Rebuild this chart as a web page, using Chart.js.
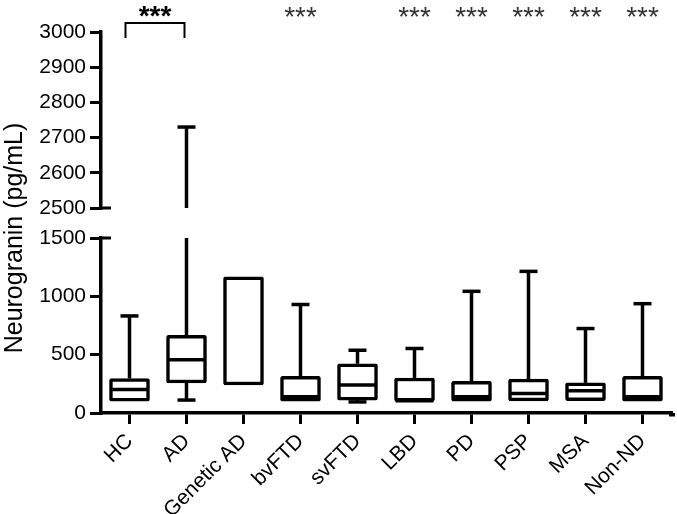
<!DOCTYPE html>
<html><head><meta charset="utf-8">
<script src="https://cdn.jsdelivr.net/npm/chart.js@4/dist/chart.umd.min.js"></script>
<style>html,body{margin:0;padding:0;background:#fff}#wrap{width:677px;height:514px}</style>
</head><body><div id="wrap"><canvas id="c" width="677" height="514"></canvas></div>
<script>
// ---- data ----
const categories = ['HC','AD','Genetic AD','bvFTD','svFTD','LBD','PD','PSP','MSA','Non-ND'];
const minValues    = [null, 111, null, null,  95, null, null, null, null, null];
const q1Values     = [102, 257,  240, 102, 110, 102, 102, 104, 106, 102];
const medianValues = [202, 456, null, 140, 239, 104, 140, 168, 191, 140];
const q3Values     = [295, 665, 1168, 314, 422, 300, 272, 290, 258, 314];
const maxValues    = [832, 2730, null, 930, 538, 553, 1043, 1214, 724, 937];
const upperAxisRange = [2500, 3000];
const lowerAxisRange = [0, 1500];
const upperTickStep = 100;
const lowerTickStep = 500;
const starGroups = ['bvFTD','LBD','PD','PSP','MSA','Non-ND'];
const bracketGroups = ['HC','AD'];
const yTitle = 'Neurogranin (pg/mL)';

const FONT = "'Liberation Sans', Arial, Helvetica, sans-serif";

const extras = {
  id: 'extras',
  beforeDatasetsDraw(chart) {
    const ctx = chart.ctx;
    const meta = chart.getDatasetMeta(0);
    const y = chart.scales.y, yTop = chart.scales.yTop;
    ctx.save();
    ctx.strokeStyle = '#000';
    ctx.lineWidth = 3.5;
    ctx.lineCap = 'butt';
    const capW = 18;
    categories.forEach((c, i) => {
      const el = meta.data[i];
      const x = el.x;
      if (maxValues[i] != null) {
        const topVal = Math.min(maxValues[i], lowerAxisRange[1]);
        ctx.beginPath();
        ctx.moveTo(x, y.getPixelForValue(q3Values[i]));
        ctx.lineTo(x, y.getPixelForValue(topVal));
        ctx.stroke();
        let capY;
        if (maxValues[i] > lowerAxisRange[1]) {
          ctx.beginPath();
          ctx.moveTo(x, yTop.getPixelForValue(upperAxisRange[0]));
          ctx.lineTo(x, yTop.getPixelForValue(maxValues[i]));
          ctx.stroke();
          capY = yTop.getPixelForValue(maxValues[i]);
        } else {
          capY = y.getPixelForValue(maxValues[i]);
        }
        ctx.beginPath();
        ctx.moveTo(x - capW / 2, capY);
        ctx.lineTo(x + capW / 2, capY);
        ctx.stroke();
      }
      if (minValues[i] != null) {
        const py = y.getPixelForValue(minValues[i]);
        ctx.beginPath();
        ctx.moveTo(x, y.getPixelForValue(q1Values[i]));
        ctx.lineTo(x, py);
        ctx.stroke();
        ctx.beginPath();
        ctx.moveTo(x - capW / 2, py);
        ctx.lineTo(x + capW / 2, py);
        ctx.stroke();
      }
    });
    ctx.restore();
  },
  afterDatasetsDraw(chart) {
    const ctx = chart.ctx;
    const meta = chart.getDatasetMeta(0);
    const y = chart.scales.y, yTop = chart.scales.yTop, xs = chart.scales.x;
    ctx.save();
    ctx.strokeStyle = '#000';
    ctx.lineWidth = 3.5;
    categories.forEach((c, i) => {
      if (medianValues[i] == null) return;
      const el = meta.data[i];
      const py = y.getPixelForValue(medianValues[i]);
      ctx.beginPath();
      ctx.moveTo(el.x - el.width / 2 + 1, py);
      ctx.lineTo(el.x + el.width / 2 - 1, py);
      ctx.stroke();
    });
    // axis break marks
    const ax = chart.chartArea.left;
    ctx.lineWidth = 3;
    [[yTop, upperAxisRange[0]], [y, lowerAxisRange[1]]].forEach(([s, v]) => {
      const py = s.getPixelForValue(v);
      ctx.beginPath();
      ctx.moveTo(ax - 1, py);
      ctx.lineTo(ax + 10, py);
      ctx.stroke();
    });
    // x axis line extension to the right edge
    ctx.lineWidth = 3.5;
    const by = chart.chartArea.bottom + 1.75;
    ctx.beginPath();
    ctx.moveTo(chart.chartArea.right - 2, by);
    ctx.lineTo(chart.chartArea.right + 4, by);
    ctx.stroke();
    // bracket
    const bx1 = xs.getPixelForValue(categories.indexOf(bracketGroups[0])) - 4;
    const bx2 = xs.getPixelForValue(categories.indexOf(bracketGroups[1])) - 2;
    ctx.lineWidth = 2;
    ctx.beginPath();
    ctx.moveTo(bx1, 38);
    ctx.lineTo(bx1, 23);
    ctx.lineTo(bx2, 23);
    ctx.lineTo(bx2, 38);
    ctx.stroke();
    // stars
    ctx.textAlign = 'center';
    ctx.textBaseline = 'alphabetic';
    ctx.fillStyle = '#000';
    ctx.font = 'bold 28px ' + FONT;
    ctx.fillText('***', (bx1 + bx2) / 2, 25);
    ctx.fillStyle = '#333';
    ctx.font = '28px ' + FONT;
    starGroups.forEach(g => {
      ctx.fillText('***', xs.getPixelForValue(categories.indexOf(g)), 26);
    });
    // y title
    ctx.fillStyle = '#000';
    ctx.font = '25px ' + FONT;
    ctx.translate(15, 238);
    ctx.rotate(-Math.PI / 2);
    ctx.textAlign = 'center';
    ctx.textBaseline = 'middle';
    ctx.fillText(yTitle, 0, 0);
    ctx.restore();
  }
};

const yCommon = {
  type: 'linear',
  position: 'left',
  stack: 'v',
  grid: { display: true, drawOnChartArea: false, tickLength: 11, lineWidth: 3, color: '#000' },
  border: { display: true, width: 3.5, color: '#000' },
  ticks: { color: '#000', font: { family: FONT, size: 21 }, padding: 4, autoSkip: false, callback: v => String(v) },
  afterFit: s => { s.width = 101; }
};

new Chart(document.getElementById('c'), {
  type: 'bar',
  data: {
    labels: categories,
    datasets: [{
      data: categories.map((c, i) => [q1Values[i], q3Values[i]]),
      yAxisID: 'y',
      backgroundColor: '#fff',
      borderColor: '#000',
      borderWidth: 3.5,
      borderSkipped: false,
      borderRadius: 2,
      barThickness: 40
    }]
  },
  options: {
    responsive: false,
    animation: false,
    devicePixelRatio: 1,
    layout: { padding: { top: 32, right: 6, left: 0, bottom: 0 } },
    plugins: { legend: { display: false }, tooltip: { enabled: false } },
    scales: {
      x: {
        type: 'category',
        offset: true,
        grid: { display: true, drawOnChartArea: false, offset: false, tickLength: 11, lineWidth: 3, color: '#000' },
        border: { display: true, width: 3.5, color: '#000' },
        ticks: { color: '#000', font: { family: FONT, size: 21 }, maxRotation: 45, minRotation: 45, padding: 5, autoSkip: false },
        afterFit: s => { s.height = 101; }
      },
      y: Object.assign({}, yCommon, {
        stackWeight: 175,
        min: lowerAxisRange[0], max: lowerAxisRange[1],
        ticks: Object.assign({}, yCommon.ticks, { stepSize: lowerTickStep })
      }),
      yGap: {
        type: 'linear', position: 'left', stack: 'v', stackWeight: 30,
        min: 0, max: 1,
        grid: { display: false }, border: { display: false }, ticks: { display: false },
        afterFit: s => { s.width = 101; }
      },
      yTop: Object.assign({}, yCommon, {
        stackWeight: 176,
        min: upperAxisRange[0], max: upperAxisRange[1],
        ticks: Object.assign({}, yCommon.ticks, { stepSize: upperTickStep })
      })
    }
  },
  plugins: [extras]
});
</script>
</body></html>
